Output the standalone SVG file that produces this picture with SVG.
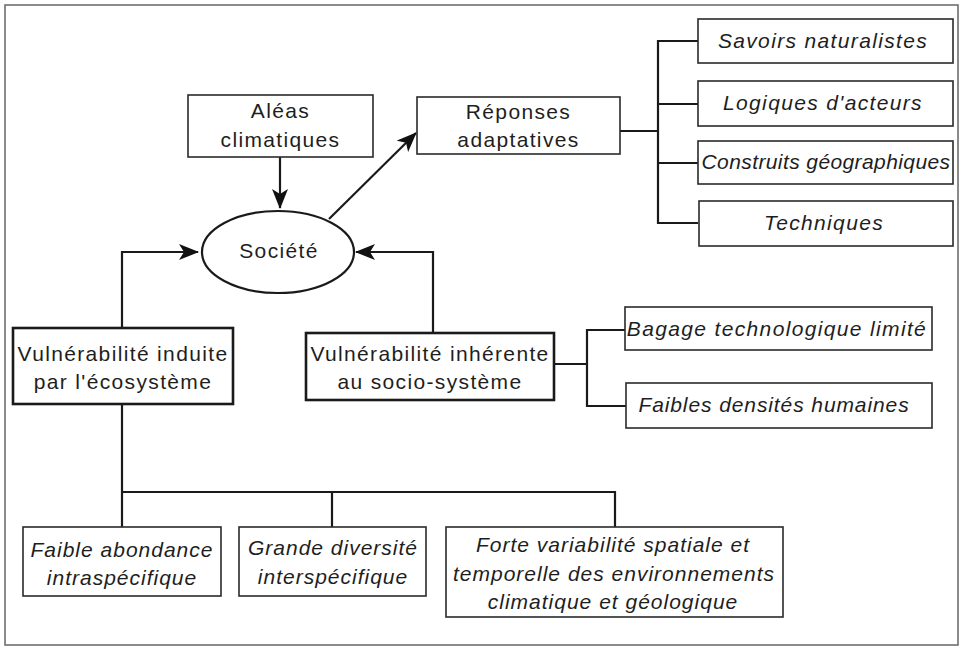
<svg xmlns="http://www.w3.org/2000/svg" width="963" height="647" viewBox="0 0 963 647">
  <style>
    text { font-family: "Liberation Sans", Arial, sans-serif; font-size: 21px; fill: #1e1e1e; text-anchor: middle; letter-spacing: 1.35px; }
    .it { font-style: italic; }
    .tight { letter-spacing: 1px; }
    .box { fill: #fff; stroke: #2a2a2a; stroke-width: 1.6; }
    .bold { fill: #fff; stroke: #1a1a1a; stroke-width: 2.6; }
    .link { fill: none; stroke: #1a1a1a; stroke-width: 2.2; }
    .frame { fill: none; stroke: #666; stroke-width: 1.5; }
  </style>
  <defs>
    <marker id="arrow" viewBox="0 0 20 16" refX="19" refY="8" markerWidth="20" markerHeight="16" markerUnits="userSpaceOnUse" orient="auto">
      <path d="M0,0 L20,8 L0,16 L5,8 z" fill="#111"/>
    </marker>
  </defs>

  <rect class="frame" x="5" y="5" width="953" height="640"/>

  <g id="connectors">
    <!-- hazards to society -->
    <line class="link" x1="280" y1="157" x2="280" y2="208" marker-end="url(#arrow)"/>
    <!-- society to adaptive responses -->
    <line class="link" x1="329" y1="219" x2="416" y2="133" marker-end="url(#arrow)"/>
    <!-- vulnerabilities to society -->
    <polyline class="link" points="122,328 122,252 198,252" marker-end="url(#arrow)"/>
    <polyline class="link" points="433,333 433,252 356,252" marker-end="url(#arrow)"/>
    <!-- responses bracket -->
    <line class="link" x1="620" y1="131" x2="658" y2="131"/>
    <polyline class="link" points="698,41 658,41 658,223 698,223"/>
    <line class="link" x1="658" y1="104" x2="698" y2="104"/>
    <line class="link" x1="658" y1="163" x2="698" y2="163"/>
    <!-- socio-system bracket -->
    <line class="link" x1="554" y1="364" x2="587" y2="364"/>
    <polyline class="link" points="625,330 587,330 587,406 626,406"/>
    <!-- ecosystem tree -->
    <line class="link" x1="122" y1="404" x2="122" y2="527"/>
    <polyline class="link" points="122,492 615,492 615,527"/>
    <line class="link" x1="332" y1="492" x2="332" y2="527"/>
  </g>

  <g id="aleas">
    <rect class="box" x="188" y="95" width="185" height="62"/>
    <text x="280.5" y="118">Aléas</text>
    <text x="280.5" y="147">climatiques</text>
  </g>

  <g id="reponses">
    <rect class="box" x="417" y="97" width="203" height="57"/>
    <text x="518.5" y="119">Réponses</text>
    <text x="518.5" y="147">adaptatives</text>
  </g>

  <g id="societe">
    <ellipse cx="278" cy="252" rx="76" ry="41" fill="#fff" stroke="#1a1a1a" stroke-width="2.2"/>
    <text x="279" y="258">Société</text>
  </g>

  <g id="savoirs">
    <rect class="box" x="698" y="19" width="255" height="44"/>
    <text class="it" x="823" y="48">Savoirs naturalistes</text>
  </g>
  <g id="logiques">
    <rect class="box" x="698" y="81" width="255" height="45"/>
    <text class="it" x="823" y="110">Logiques d'acteurs</text>
  </g>
  <g id="construits">
    <rect class="box" x="698" y="141" width="255" height="43"/>
    <text class="it" x="826" y="169" style="letter-spacing:0.4px">Construits géographiques</text>
  </g>
  <g id="techniques">
    <rect class="box" x="699" y="201" width="254" height="45"/>
    <text class="it" x="824" y="230">Techniques</text>
  </g>

  <g id="induite">
    <rect class="bold" x="13" y="328" width="220" height="76"/>
    <text x="123" y="361">Vulnérabilité induite</text>
    <text x="123" y="389">par l'écosystème</text>
  </g>

  <g id="inherente">
    <rect class="bold" x="306" y="333" width="248" height="67"/>
    <text x="430" y="361">Vulnérabilité inhérente</text>
    <text x="430" y="389">au socio-système</text>
  </g>

  <g id="bagage">
    <rect class="box" x="625" y="307" width="307" height="43"/>
    <text class="it" x="777" y="336">Bagage technologique limité</text>
  </g>
  <g id="densites">
    <rect class="box" x="626" y="383" width="306" height="45"/>
    <text class="it" x="774" y="412" style="letter-spacing:0.9px">Faibles densités humaines</text>
  </g>

  <g id="abondance">
    <rect class="box" x="23" y="527" width="198" height="69"/>
    <text class="it tight" x="122" y="557">Faible abondance</text>
    <text class="it tight" x="122" y="585">intraspécifique</text>
  </g>
  <g id="diversite">
    <rect class="box" x="239" y="527" width="187" height="69"/>
    <text class="it tight" x="333" y="555">Grande diversité</text>
    <text class="it tight" x="333" y="584">interspécifique</text>
  </g>
  <g id="variabilite">
    <rect class="box" x="446" y="527" width="337" height="90"/>
    <text class="it tight" x="613" y="552">Forte variabilité spatiale et</text>
    <text class="it tight" x="614" y="581">temporelle des environnements</text>
    <text class="it tight" x="613" y="609">climatique et géologique</text>
  </g>
</svg>
